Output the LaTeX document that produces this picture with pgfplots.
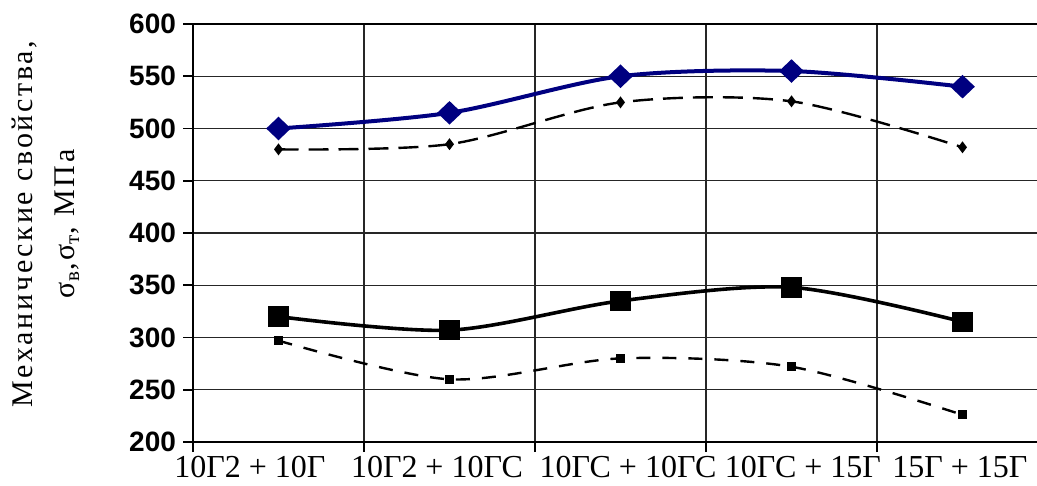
\documentclass[border=0pt]{standalone}
\usepackage{fontspec}
\setmainfont{Liberation Serif}
\setsansfont{Liberation Sans}
\newfontfamily\labelfont[LetterSpace=9]{Liberation Serif}
\usepackage{pgfplots}
\pgfplotsset{compat=1.18}
\definecolor{navy}{RGB}{0,0,128}
\begin{document}
\begin{tikzpicture}
\begin{axis}[
  scale only axis, width=427.5pt, height=209pt,
  xmin=0, xmax=5, ymin=200, ymax=600,
  ytick={200,250,...,600},
  xtick={0,1,2,3,4,5}, xticklabels={},
  grid=major, grid style={black!85, line width=0.7pt},
  axis line style={black, line width=0.8pt},
  tick align=outside, major tick length=5pt,
  tick style={black, line width=0.8pt},
  xtick pos=bottom, ytick pos=left,
  /pgf/number format/assume math mode=true,
  yticklabel style={font=\fontsize{14}{14}\selectfont\sffamily\bfseries},
  extra x ticks={0.333,1.427,2.544,3.567,4.485},
  extra x tick labels={10Г2 + 10Г, 10Г2 + 10ГС, 10ГС + 10ГС, 10ГС + 15Г, 15Г + 15Г},
  extra x tick style={grid=none, tick style={draw=none}},
  xticklabel style={font=\fontsize{16}{16}\selectfont, inner ysep=2pt},
  ylabel={Механические свойства,\\σ\textsubscript{в},σ\textsubscript{т}, МПа},
  ylabel style={font=\labelfont\fontsize{15}{21}\selectfont, align=center,
    at={(axis description cs:-0.172,0.522)}, anchor=center},
]
\addplot[navy, line width=2pt, smooth, mark=diamond*, mark size=4.5pt,
  mark options={xscale=1.4}] coordinates {(0.5,500)(1.5,515)(2.5,550)(3.5,555)(4.5,540)};
\addplot[black, line width=1.2pt, dash pattern=on 10pt off 5pt, smooth, mark=diamond*,
  mark size=2pt, mark options={solid}] coordinates {(0.5,480)(1.5,485)(2.5,525)(3.5,526)(4.5,482)};
\addplot[black, line width=1.8pt, smooth, mark=square*, mark size=4.25pt]
  coordinates {(0.5,320)(1.5,307)(2.5,335)(3.5,348)(4.5,315)};
\addplot[black, line width=1.2pt, dash pattern=on 7pt off 6pt, smooth, mark=square*,
  mark size=1.6pt, mark options={solid}] coordinates {(0.5,297)(1.5,260)(2.5,280)(3.5,272)(4.5,226)};
\end{axis}
\pgfresetboundingbox
\useasboundingbox (-96.5pt,-22pt) rectangle (422pt,221pt);
\end{tikzpicture}
\end{document}
